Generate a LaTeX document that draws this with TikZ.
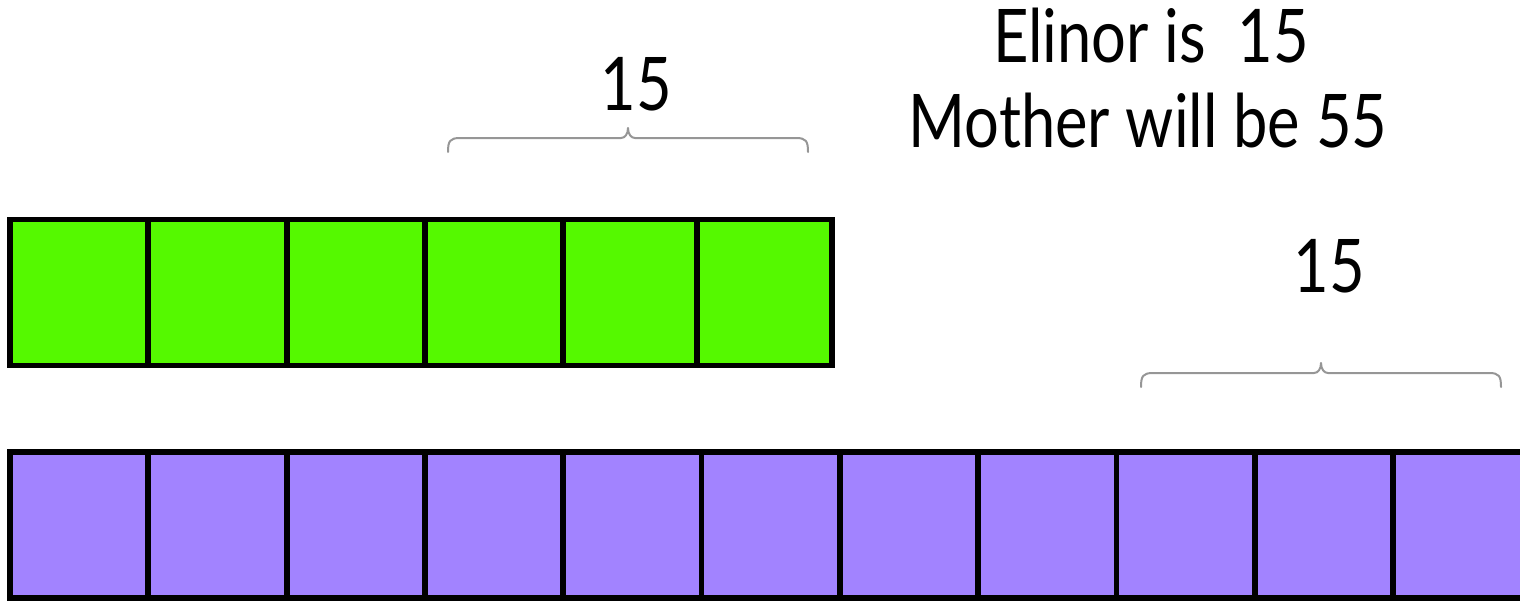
\documentclass[tikz,border=0pt]{standalone}
\usepackage{fontspec}
\setmainfont{Lato}[FakeStretch=0.83]
\definecolor{elinorgreen}{RGB}{85,249,0}
\definecolor{motherpurple}{RGB}{162,131,255}
\definecolor{bracegray}{RGB}{150,150,150}
\tikzset{
  yearbox/.style={draw=black, line width=5.8pt, inner sep=0pt, minimum height=146pt},
  greenbox/.style={yearbox, fill=elinorgreen},
  purplebox/.style={yearbox, fill=motherpurple},
  bigtext/.style={font=\fontsize{74}{85}\selectfont, inner sep=0pt, anchor=base},
  bracestroke/.style={draw=bracegray, line width=2pt, line cap=round, line join=round},
}
% brace over a span: left x, tip x, right x, baseline y of the bar
\newcommand\drawagebrace[4]{%
  \draw[bracestroke]
    (#1,#4+14) .. controls (#1,#4+3) and (#1+2,#4) .. (#1+12,#4)
    -- (#2-7,#4) .. controls (#2-3,#4) and (#2,#4-4) .. (#2,#4-10)
    .. controls (#2,#4-4) and (#2+3,#4) .. (#2+7,#4)
    -- (#3-12,#4) .. controls (#3-2,#4) and (#3,#4+3) .. (#3,#4+14);}
\begin{document}
\begin{tikzpicture}[x=1pt,y=-1pt]
  \useasboundingbox (0,0) rectangle (1520,600);
  % Elinor's years
  \foreach \a/\b [count=\i] in {10/148.3, 148.3/286.6, 286.6/424.9, 424.9/563.2, 563.2/697.3, 697.3/832}
    \node[greenbox, minimum width=\b pt-\a pt] (g\i) at ({(\a+\b)/2}, 292.5) {};
  % Mother's years
  \foreach \a/\b [count=\i] in {10/148.3, 148.3/286.6, 286.6/424.9, 424.9/563.2, 563.2/701.5, 701.5/839.8, 839.8/978.1, 978.1/1116.4, 1116.4/1254.7, 1254.7/1393, 1393/1531.3}
    \node[purplebox, minimum width=\b pt-\a pt] (p\i) at ({(\a+\b)/2}, 525) {};
  % braces and their labels
  \drawagebrace{448}{628}{808}{138}
  \node[bigtext] (topfifteen) at (636,110) {15};
  \drawagebrace{1141}{1321}{1501}{373}
  \node[bigtext] (lowfifteen) at (1329,292) {15};
  % statement
  \node[bigtext] (elinor) at (1151,62) {Elinor is\ \ 15};
  \node[bigtext] (mother) at (1148,147) {Mother will be 55};
\end{tikzpicture}
\end{document}
